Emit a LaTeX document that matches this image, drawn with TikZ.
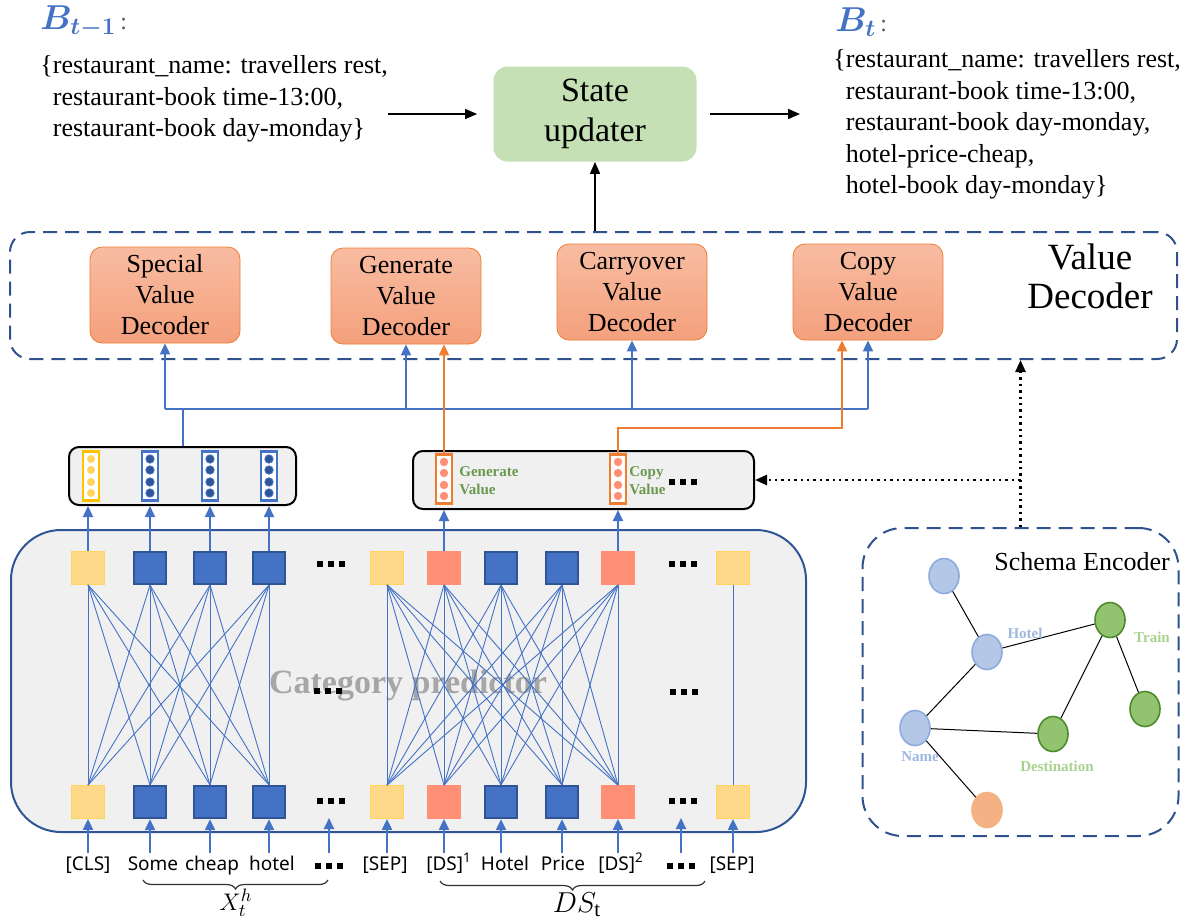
\documentclass[tikz,border=0pt]{standalone}
\usepackage{amsmath}
\usepackage{bm}
\usepackage{fontspec}
\setmainfont{Liberation Serif}
\newfontfamily\tokfont{Noto Sans}
\usetikzlibrary{arrows.meta,positioning,calc,shapes.geometric,decorations.pathreplacing}
\definecolor{BluLine}{HTML}{4472C4}
\definecolor{BluEdge}{HTML}{2F5597}
\definecolor{DashBlu}{HTML}{2F528F}
\definecolor{YelFill}{HTML}{FFD98A}
\definecolor{YelEdge}{HTML}{FFD35C}
\definecolor{YelRim}{HTML}{FFC000}
\definecolor{RedFill}{HTML}{FF8F75}
\definecolor{OraLine}{HTML}{ED7D31}
\definecolor{DecTop}{HTML}{F8BCA2}
\definecolor{DecBot}{HTML}{F4A07C}
\definecolor{UpdFill}{HTML}{C5E0B4}
\definecolor{Panel}{HTML}{F0F0F0}
\definecolor{CatGray}{HTML}{A6A6A6}
\definecolor{VecTxt}{HTML}{6A994E}
\definecolor{NodeBlu}{HTML}{B4C7E7}
\definecolor{NodeBluEdge}{HTML}{8FAADC}
\definecolor{NodeGrn}{HTML}{92C46F}
\definecolor{NodeGrnEdge}{HTML}{4E8A2E}
\definecolor{NodeOra}{HTML}{F4B183}
\definecolor{LblBlu}{HTML}{9DB7E0}
\definecolor{LblGrn}{HTML}{A9D18E}
\definecolor{Muted}{HTML}{595959}
\newcommand{\sqdots}{\rule{3pt}{3pt}\hspace{2.6pt}\rule{3pt}{3pt}\hspace{2.6pt}\rule{3pt}{3pt}}
\newcommand{\bcolon}{{\color{Muted}\fontsize{12}{12}\selectfont\,:}}
\tikzset{stxt/.style={align=left,inner sep=0pt,font=\fontsize{13}{15.8}\selectfont},
  blabel/.style={inner sep=0pt,text=BluLine,font=\fontsize{17.5}{17.5}\selectfont},
  updater/.style={fill=UpdFill,rounded corners=7pt,minimum width=101.5pt,
    minimum height=47.5pt,align=center,font=\fontsize{17}{20}\selectfont},
  decbox/.style={draw=OraLine,top color=DecTop,bottom color=DecBot,rounded corners=6pt,
    minimum width=75pt,minimum height=48pt,align=center,inner sep=0pt,
    font=\fontsize{13}{15.5}\selectfont},
  dashbox/.style={draw=DashBlu,line width=1pt,dash pattern=on 7pt off 4pt},
  vecbox/.style={draw=black,line width=1pt,fill=Panel,rounded corners=5pt,
    minimum height=29pt},
  vcol/.style={fill=white,line width=1.1pt,minimum width=8pt,minimum height=24.5pt,inner sep=0pt},
  sqyel/.style={draw=YelEdge,fill=YelFill,minimum size=16.5pt,inner sep=0pt},
  sqblu/.style={draw=BluEdge,line width=1.1pt,fill=BluLine,minimum size=16pt,inner sep=0pt},
  sqred/.style={draw=RedFill,fill=RedFill,minimum size=16.5pt,inner sep=0pt},
  uparrow/.style={-{Triangle[length=5.5pt,width=5pt]},line width=1pt,draw=BluLine},
  oarrow/.style={-{Triangle[length=5.5pt,width=5pt]},line width=1pt,draw=OraLine},
  karrow/.style={-{Triangle[length=6pt,width=5pt]},line width=0.8pt,draw=black},
  dotarrow/.style={-{Triangle[length=6pt,width=5pt]},line width=1.2pt,dotted,draw=black},
  mesh/.style={draw=BluLine,line width=0.45pt},
  tok/.style={inner sep=1pt,text height=7.5pt,text depth=2pt,font=\tokfont\fontsize{9.5}{11}\selectfont},
  vtxt/.style={align=left,inner sep=0pt,text=VecTxt,font=\bfseries\fontsize{7.5}{9}\selectfont},
  gnode/.style={ellipse,line width=0.8pt,minimum width=15pt,minimum height=17.5pt,inner sep=0pt},
  gblu/.style={gnode,draw=NodeBluEdge,fill=NodeBlu},
  ggrn/.style={gnode,draw=NodeGrnEdge,fill=NodeGrn},
  gora/.style={gnode,draw=NodeOra,fill=NodeOra},
  glbl/.style={inner sep=0pt,font=\bfseries\fontsize{7.5}{9}\selectfont},
  brace/.style={decorate,decoration={brace,mirror,amplitude=4.5pt},draw=black!80,line width=0.6pt}}

\begin{document}
\begin{tikzpicture}[x=0.5pt,y=-0.5pt]
  \useasboundingbox (0,0) rectangle (1182,922);
  % belief states and the updater
  \node[blabel,anchor=west] (bprev) at (40,22) {$\bm{B_{t-1}}$\bcolon};
  \node[stxt,anchor=north west] (prevtxt) at (40,55) {\{restaurant\_name: travellers rest,\\
    \phantom{\{}restaurant-book time-13:00,\\ \phantom{\{}restaurant-book day-monday\}};
  \node[updater] (upd) at (595,114) {State\\updater};
  \node[blabel,anchor=west] (bnext) at (835,22) {$\bm{B_{t}}$\bcolon};
  \node[stxt,anchor=north west] (nexttxt) at (833,49) {\{restaurant\_name: travellers rest,\\
    \phantom{\{}restaurant-book time-13:00,\\ \phantom{\{}restaurant-book day-monday,\\
    \phantom{\{}hotel-price-cheap,\\ \phantom{\{}hotel-book day-monday\}};
  \draw[karrow,shorten >=8pt] (prevtxt.east |- upd.west) -- (upd.west);
  \draw[karrow,shorten <=6.5pt,shorten >=16.5pt] (upd.east) -- (nexttxt.west |- upd.east);

  % value decoder
  \node[dashbox,rounded corners=10pt,minimum width=583.5pt,minimum height=63.5pt] (vdec) at (593.5,295.5) {};
  \node[align=center,inner sep=0pt,font=\fontsize{18.5}{19.5}\selectfont] (vdeclbl) at (1090,276) {Value\\Decoder};
  \node[decbox] (dec-spec) at (165,295) {Special\\Value\\Decoder};
  \node[decbox] (dec-gen) at (406,296) {Generate\\Value\\Decoder};
  \node[decbox] (dec-carry) at (632,292) {Carryover\\Value\\Decoder};
  \node[decbox] (dec-copy) at (868,292) {Copy\\Value\\Decoder};
  \draw[karrow] (upd.south |- vdec.north) -- (upd.south);

  % hidden vectors
  \node[vecbox,minimum width=113.5pt] (lvec) at (182.5,476) {};
  \node[vecbox,minimum width=170.5pt] (rvec) at (583.5,480) {};
  \node[vcol,draw=YelRim] (v-cls) at (91,476) {};
  \foreach \n/\x in {some/150,cheap/210,hotel/269}
    \node[vcol,draw=BluLine] (v-\n) at (\x,476) {};
  \foreach \n/\x in {dsa/444,dsb/618}
    \node[vcol,draw=OraLine] (v-\n) at (\x,479) {};
  \foreach \d in {-17,-6,6,17} {
    \fill[YelEdge] (91,{476+\d}) circle (4);
    \foreach \x in {150,210,269}
      \filldraw[fill=BluEdge,draw=BluLine,line width=0.4pt] (\x,{476+\d}) circle (4.2);
    \foreach \x in {444,618}
      \fill[RedFill] (\x,{479+\d}) circle (4.2);
  }
  \node[vtxt,anchor=west] (gentxt) at (459,481) {Generate\\Value};
  \node[vtxt,anchor=west] (copytxt) at (629,481) {Copy\\Value};
  \node[inner sep=0pt] (rdots) at (683,482) {\sqdots};

  % links up to the decoders
  \coordinate (bus-l) at (165,409);
  \coordinate (bus-r) at (868,409);
  \coordinate (obend) at (842,428);
  \draw[draw=BluLine,line width=1pt] (lvec.north) -- (lvec.north |- bus-l);
  \draw[draw=BluLine,line width=1pt] (bus-l) -- (bus-r);
  \draw[uparrow] (bus-l) -- (dec-spec.south);
  \draw[uparrow] (dec-gen.south |- bus-l) -- (dec-gen.south);
  \draw[uparrow] (dec-carry.south |- bus-l) -- (dec-carry.south);
  \draw[uparrow] (bus-r) -- (dec-copy.south);
  \draw[oarrow] (v-dsa.north) -- (v-dsa.north |- dec-gen.south);
  \draw[oarrow] (v-dsb.north) |- (obend) -- (obend |- dec-copy.south);

  % category predictor
  \node[draw=BluEdge,line width=1pt,fill=Panel,rounded corners=25pt,minimum width=397.5pt,
    minimum height=151pt] (catbox) at (408.5,681) {};
  \node[text=CatGray,font=\bfseries\fontsize{17}{17}\selectfont] (catlbl) at (408,685) {Category predictor};
  \foreach \n/\x/\k in {cls/88/sqyel,some/150/sqblu,cheap/210/sqblu,hotel/269/sqblu,
      sep/387/sqyel,dsa/444/sqred,hot/501/sqblu,price/562/sqblu,dsb/618/sqred,sepb/733/sqyel} {
    \node[\k] (top-\n) at (\x,568) {};
    \node[\k] (bot-\n) at (\x,802) {};
  }
  \foreach \a in {cls,some,cheap,hotel}
    \foreach \b in {cls,some,cheap,hotel}
      \draw[mesh] (bot-\a.north) -- (top-\b.south);
  \foreach \a in {sep,dsa,hot,price,dsb}
    \foreach \b in {sep,dsa,hot,price,dsb}
      \draw[mesh] (bot-\a.north) -- (top-\b.south);
  \draw[mesh] (bot-sepb.north) -- (top-sepb.south);
  \node[inner sep=0pt] (tdots-a) at (331,564) {\sqdots};
  \node[inner sep=0pt] (mdots-a) at (328,691) {\sqdots};
  \node[inner sep=0pt] (bdots-a) at (331,801) {\sqdots};
  \node[inner sep=0pt] (tdots-b) at (683,564) {\sqdots};
  \node[inner sep=0pt] (mdots-b) at (684,692) {\sqdots};
  \node[inner sep=0pt] (bdots-b) at (683,801) {\sqdots};
  \foreach \n in {cls,some,cheap,hotel}
    \draw[uparrow] (top-\n.north) -- (top-\n.north |- lvec.south);
  \foreach \n in {dsa,dsb}
    \draw[uparrow] (top-\n.north) -- (top-\n.north |- rvec.south);

  % input tokens
  \foreach \n/\x/\t in {cls/88/[CLS],some/153/Some,cheap/212/cheap,hotel/272/hotel,
      sep/385/[SEP],dsa/449/[DS]\textsuperscript{1},hot/505/Hotel,price/563/Price,
      dsb/621/[DS]\textsuperscript{2},sepb/732/[SEP]} {
    \node[tok] (tok-\n) at (\x,865) {\t};
    \draw[uparrow] (bot-\n.south |- tok-\n.north) -- (bot-\n.south);
  }
  \node[inner sep=0pt] (tok-dots-a) at (329,866) {\sqdots};
  \node[inner sep=0pt] (tok-dots-b) at (681,866) {\sqdots};
  \coordinate (adots-a) at (329,818);
  \coordinate (adots-b) at (681,818);
  \draw[uparrow] (tok-dots-a.north |- tok-cls.north) -- (adots-a);
  \draw[uparrow] (tok-dots-b.north |- tok-cls.north) -- (adots-b);
  \coordinate (brx-a) at (143,880);
  \coordinate (brx-b) at (328,880);
  \coordinate (brds-a) at (440,881);
  \coordinate (brds-b) at (705,881);
  \draw[brace] (brx-a) -- (brx-b);
  \draw[brace] (brds-a) -- (brds-b);
  \node[inner sep=0pt,font=\fontsize{13}{13}\selectfont] (xlbl) at (236,903) {$X_t^h$};
  \node[inner sep=0pt,font=\fontsize{15}{15}\selectfont] (dslbl) at (577,905) {$DS_{\mathrm{t}}$};

  % schema encoder
  \node[dashbox,rounded corners=20pt,minimum width=158pt,minimum height=154pt] (schema) at (1020.5,682) {};
  \node[inner sep=0pt,font=\fontsize{13}{13}\selectfont] (schlbl) at (1082,562) {Schema Encoder};
  \node[gblu] (g-top) at (944,576) {};
  \node[gblu] (g-hotel) at (987,652) {};
  \node[gblu] (g-name) at (915,728) {};
  \node[gora] (g-val) at (987,810) {};
  \node[ggrn] (g-train) at (1110,620) {};
  \node[ggrn] (g-dest) at (1053,734) {};
  \node[ggrn] (g-leaf) at (1145,709) {};
  \foreach \a/\b in {top/hotel,hotel/train,hotel/name,name/dest,name/val,dest/train,train/leaf}
    \draw[line width=0.5pt] (g-\a) -- (g-\b);
  \node[glbl,text=LblBlu] (l-hotel) at (1025,633) {Hotel};
  \node[glbl,text=LblGrn] (l-train) at (1152,637) {Train};
  \node[glbl,text=LblBlu] (l-name) at (920,757) {Name};
  \node[glbl,text=LblGrn] (l-dest) at (1057,766) {Destination};
  \draw[dotarrow] (schema.north) -- (schema.north |- vdec.south);
  \draw[dotarrow] (schema.north |- rvec.east) -- (rvec.east);
\end{tikzpicture}
\end{document}
